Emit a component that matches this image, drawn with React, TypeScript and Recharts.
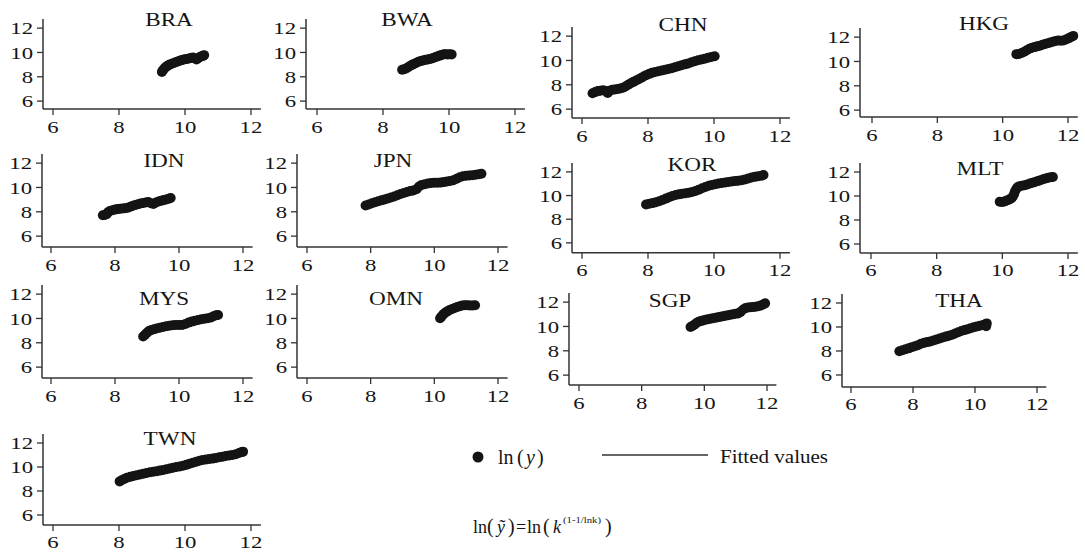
import { ScatterChart, Scatter, XAxis, YAxis } from "recharts";

type Pt = { x: number; y: number };
const pts = (pairs: number[][]): Pt[] => pairs.map(([x, y]) => ({ x, y }));

// ln(k) on x, ln(y) on y, one array per economy
const BRA = pts([
  [9.3, 8.4], [9.32, 8.5], [9.35, 8.6], [9.38, 8.7], [9.42, 8.8], [9.47, 8.9], [9.52, 8.98],
  [9.58, 9.05], [9.64, 9.12], [9.7, 9.18], [9.76, 9.24], [9.82, 9.3], [9.88, 9.35], [9.94, 9.4],
  [10.0, 9.44], [10.06, 9.47], [10.12, 9.5], [10.18, 9.55], [10.24, 9.58], [10.3, 9.5],
  [10.35, 9.42], [10.4, 9.52], [10.45, 9.62], [10.5, 9.68], [10.55, 9.72], [10.58, 9.78],
]);
const BWA = pts([
  [8.58, 8.58], [8.64, 8.62], [8.7, 8.68], [8.76, 8.78], [8.82, 8.88], [8.88, 8.98], [8.94, 9.06],
  [9.0, 9.14], [9.06, 9.22], [9.12, 9.28], [9.18, 9.32], [9.24, 9.36], [9.3, 9.4], [9.36, 9.42],
  [9.42, 9.46], [9.48, 9.5], [9.54, 9.56], [9.6, 9.62], [9.66, 9.68], [9.72, 9.74], [9.78, 9.8],
  [9.84, 9.85], [9.9, 9.86], [9.96, 9.84], [10.02, 9.86], [10.08, 9.84],
]);
const CHN = pts([
  [6.32, 7.3], [6.4, 7.4], [6.48, 7.48], [6.56, 7.52], [6.64, 7.56], [6.72, 7.5], [6.78, 7.32],
  [6.84, 7.52], [6.92, 7.6], [7.0, 7.62], [7.08, 7.66], [7.16, 7.7], [7.24, 7.76], [7.32, 7.86],
  [7.4, 8.0], [7.48, 8.12], [7.56, 8.24], [7.64, 8.36], [7.72, 8.46], [7.8, 8.58], [7.88, 8.7],
  [7.96, 8.8], [8.04, 8.9], [8.12, 8.98], [8.22, 9.06], [8.32, 9.12], [8.42, 9.18], [8.52, 9.24],
  [8.62, 9.3], [8.72, 9.36], [8.82, 9.44], [8.92, 9.52], [9.02, 9.6], [9.12, 9.68], [9.22, 9.76],
  [9.32, 9.86], [9.42, 9.94], [9.52, 10.02], [9.62, 10.08], [9.72, 10.14], [9.82, 10.22],
  [9.92, 10.28], [10.02, 10.34],
]);
const HKG = pts([
  [10.42, 10.6], [10.5, 10.62], [10.58, 10.7], [10.66, 10.8], [10.74, 10.92], [10.82, 11.04],
  [10.9, 11.12], [10.98, 11.18], [11.06, 11.24], [11.14, 11.3], [11.22, 11.38], [11.3, 11.44],
  [11.38, 11.5], [11.46, 11.56], [11.54, 11.62], [11.62, 11.68], [11.7, 11.72], [11.78, 11.7],
  [11.86, 11.72], [11.94, 11.8], [12.02, 11.9], [12.1, 12.02], [12.16, 12.1],
]);
const IDN = pts([
  [7.62, 7.72], [7.68, 7.74], [7.74, 7.8], [7.78, 7.96], [7.84, 8.06], [7.92, 8.12], [8.0, 8.18],
  [8.08, 8.22], [8.16, 8.26], [8.24, 8.28], [8.32, 8.3], [8.4, 8.34], [8.48, 8.42], [8.56, 8.5],
  [8.64, 8.56], [8.72, 8.62], [8.8, 8.68], [8.88, 8.72], [8.96, 8.76], [9.04, 8.8], [9.12, 8.7],
  [9.2, 8.64], [9.28, 8.76], [9.36, 8.84], [9.44, 8.9], [9.52, 8.96], [9.6, 9.02], [9.68, 9.08],
  [9.74, 9.14],
]);
const JPN = pts([
  [7.84, 8.52], [7.94, 8.6], [8.04, 8.7], [8.14, 8.78], [8.24, 8.86], [8.34, 8.94], [8.44, 9.02],
  [8.54, 9.1], [8.64, 9.18], [8.74, 9.26], [8.84, 9.36], [8.94, 9.46], [9.04, 9.54], [9.14, 9.62],
  [9.24, 9.7], [9.34, 9.76], [9.44, 9.86], [9.52, 10.08], [9.6, 10.2], [9.7, 10.26], [9.8, 10.32],
  [9.9, 10.36], [10.0, 10.38], [10.1, 10.38], [10.2, 10.4], [10.3, 10.44], [10.4, 10.5],
  [10.5, 10.54], [10.6, 10.6], [10.7, 10.72], [10.8, 10.84], [10.9, 10.92], [11.0, 10.96],
  [11.1, 10.98], [11.2, 11.0], [11.3, 11.04], [11.4, 11.08], [11.48, 11.12],
]);
const KOR = pts([
  [7.94, 9.24], [8.04, 9.3], [8.14, 9.36], [8.24, 9.44], [8.34, 9.52], [8.44, 9.62], [8.54, 9.74],
  [8.64, 9.86], [8.74, 9.96], [8.84, 10.04], [8.94, 10.1], [9.04, 10.16], [9.14, 10.2],
  [9.24, 10.24], [9.34, 10.3], [9.44, 10.38], [9.54, 10.5], [9.64, 10.62], [9.74, 10.72],
  [9.84, 10.82], [9.94, 10.9], [10.04, 10.96], [10.14, 11.02], [10.24, 11.06], [10.34, 11.1],
  [10.44, 11.14], [10.54, 11.18], [10.64, 11.22], [10.74, 11.26], [10.84, 11.3], [10.94, 11.36],
  [11.04, 11.44], [11.14, 11.52], [11.24, 11.58], [11.34, 11.64], [11.44, 11.68], [11.5, 11.74],
]);
const MLT = pts([
  [9.92, 9.52], [9.98, 9.5], [10.04, 9.52], [10.1, 9.58], [10.16, 9.64], [10.22, 9.72],
  [10.28, 9.82], [10.32, 9.96], [10.36, 10.16], [10.38, 10.36], [10.42, 10.56], [10.46, 10.72],
  [10.52, 10.82], [10.6, 10.86], [10.68, 10.9], [10.76, 10.96], [10.84, 11.04], [10.92, 11.1],
  [11.0, 11.16], [11.08, 11.24], [11.16, 11.32], [11.24, 11.4], [11.32, 11.46], [11.4, 11.52],
  [11.48, 11.56], [11.54, 11.58],
]);
const MYS = pts([
  [8.88, 8.52], [8.94, 8.66], [9.0, 8.82], [9.06, 8.96], [9.14, 9.06], [9.22, 9.12], [9.3, 9.18],
  [9.4, 9.24], [9.5, 9.3], [9.6, 9.36], [9.7, 9.4], [9.8, 9.44], [9.9, 9.46], [10.0, 9.46],
  [10.1, 9.46], [10.2, 9.54], [10.3, 9.66], [10.4, 9.74], [10.5, 9.82], [10.6, 9.88], [10.7, 9.94],
  [10.8, 9.98], [10.9, 10.02], [11.0, 10.08], [11.08, 10.18], [11.16, 10.26], [11.22, 10.28],
]);
const OMN = pts([
  [10.18, 10.02], [10.22, 10.14], [10.26, 10.26], [10.3, 10.38], [10.36, 10.5], [10.42, 10.6],
  [10.48, 10.7], [10.56, 10.78], [10.64, 10.86], [10.72, 10.94], [10.8, 11.0], [10.88, 11.06],
  [10.96, 11.08], [11.04, 11.08], [11.12, 11.06], [11.2, 11.06], [11.28, 11.08],
]);
const SGP = pts([
  [9.56, 9.96], [9.62, 10.04], [9.68, 10.14], [9.74, 10.26], [9.8, 10.36], [9.88, 10.44],
  [9.96, 10.5], [10.04, 10.56], [10.12, 10.6], [10.2, 10.64], [10.28, 10.68], [10.36, 10.72],
  [10.44, 10.76], [10.52, 10.8], [10.6, 10.84], [10.68, 10.88], [10.76, 10.92], [10.84, 10.96],
  [10.92, 11.0], [11.0, 11.04], [11.08, 11.06], [11.16, 11.2], [11.24, 11.4], [11.32, 11.52],
  [11.4, 11.56], [11.48, 11.58], [11.56, 11.6], [11.64, 11.62], [11.72, 11.66], [11.8, 11.72],
  [11.88, 11.8], [11.94, 11.9],
]);
const THA = pts([
  [7.56, 7.98], [7.66, 8.06], [7.76, 8.14], [7.86, 8.22], [7.96, 8.32], [8.06, 8.4], [8.16, 8.48],
  [8.26, 8.6], [8.36, 8.68], [8.46, 8.74], [8.56, 8.8], [8.66, 8.88], [8.76, 8.96], [8.86, 9.04],
  [8.96, 9.12], [9.06, 9.2], [9.16, 9.28], [9.26, 9.36], [9.36, 9.46], [9.46, 9.56], [9.56, 9.66],
  [9.66, 9.74], [9.76, 9.82], [9.86, 9.9], [9.96, 9.98], [10.06, 10.04], [10.16, 10.1],
  [10.26, 10.16], [10.34, 10.22], [10.38, 10.3], [10.36, 10.06],
]);
const TWN = pts([
  [8.02, 8.8], [8.08, 8.9], [8.16, 9.0], [8.24, 9.1], [8.34, 9.18], [8.44, 9.26], [8.54, 9.32],
  [8.64, 9.38], [8.74, 9.44], [8.84, 9.5], [8.94, 9.56], [9.04, 9.6], [9.14, 9.64], [9.24, 9.7],
  [9.34, 9.76], [9.44, 9.82], [9.54, 9.88], [9.64, 9.94], [9.74, 10.0], [9.84, 10.04],
  [9.94, 10.1], [10.04, 10.18], [10.14, 10.28], [10.24, 10.36], [10.34, 10.44], [10.44, 10.52],
  [10.54, 10.58], [10.64, 10.62], [10.74, 10.66], [10.84, 10.7], [10.94, 10.76], [11.04, 10.82],
  [11.14, 10.86], [11.24, 10.92], [11.34, 10.96], [11.44, 11.0], [11.54, 11.06], [11.64, 11.16],
  [11.72, 11.24], [11.76, 11.28],
]);

const seriesByCode: Record<string, Pt[]> = {
  BRA, BWA, CHN, HKG, IDN, JPN, KOR, MLT, MYS, OMN, SGP, THA, TWN,
};

const xTicks = [6, 8, 10, 12];
const yTicks = [6, 8, 10, 12];

// pixel geometry of each small panel: y-axis line (ax), tick 6/12 positions,
// x-axis line (ay), title centre/baseline
const panels = [
  { code: "BRA", ax: 43, x6: 53, x12: 251, y12: 28, y6: 101, ay: 109, tx: 169, ty: 26 },
  { code: "BWA", ax: 306, x6: 317, x12: 515, y12: 28, y6: 101, ay: 109, tx: 407, ty: 26 },
  { code: "CHN", ax: 572, x6: 582, x12: 780, y12: 36, y6: 109, ay: 118, tx: 683, ty: 31 },
  { code: "HKG", ax: 860, x6: 872, x12: 1068, y12: 37, y6: 110, ay: 117, tx: 984, ty: 30 },
  { code: "IDN", ax: 42, x6: 51, x12: 243, y12: 163, y6: 236, ay: 247, tx: 164, ty: 167 },
  { code: "JPN", ax: 297, x6: 307, x12: 498, y12: 163, y6: 236, ay: 247, tx: 393, ty: 167 },
  { code: "KOR", ax: 572, x6: 582, x12: 780, y12: 172, y6: 243, ay: 253, tx: 692, ty: 171 },
  { code: "MLT", ax: 860, x6: 871, x12: 1068, y12: 172, y6: 244, ay: 253, tx: 980, ty: 175 },
  { code: "MYS", ax: 42, x6: 51, x12: 243, y12: 294, y6: 367, ay: 378, tx: 164, ty: 305 },
  { code: "OMN", ax: 297, x6: 307, x12: 498, y12: 294, y6: 367, ay: 378, tx: 396, ty: 305 },
  { code: "SGP", ax: 569, x6: 579, x12: 767, y12: 302, y6: 375, ay: 385, tx: 670, ty: 307 },
  { code: "THA", ax: 842, x6: 851, x12: 1037, y12: 303, y6: 375, ay: 387, tx: 959, ty: 307 },
  { code: "TWN", ax: 43, x6: 53, x12: 251, y12: 443, y6: 515, ay: 525, tx: 170, ty: 445 },
];

const FONT = "'Liberation Serif', 'Times New Roman', serif";
const INK = "#141414";
const AXIS = "#333";
const YW = 44;
const RIGHT = 16;

const Dot = (props: any) => <circle cx={props.cx} cy={props.cy} r={5} fill={INK} />;

const XTick = ({ x, y, payload }: any) => (
  <text transform={`translate(${x},${y}) scale(1.3,1)`} textAnchor="middle" dy="0.71em"
    fontSize={17.5} fontFamily={FONT} fill={INK}>
    {payload.value}
  </text>
);

const YTick = ({ x, y, payload }: any) => (
  <text transform={`translate(${x},${y}) scale(1.3,1)`} textAnchor="end" dy="0.35em"
    fontSize={17.5} fontFamily={FONT} fill={INK}>
    {payload.value}
  </text>
);

function Panel({ p }: { p: (typeof panels)[number] }) {
  const pxu = (p.x12 - p.x6) / 6;
  const pyu = (p.y6 - p.y12) / 6;
  const xMin = 6 - (p.x6 - p.ax) / pxu;
  const xMax = 12.3;
  const yMax = 12.75;
  const yMin = 6 - (p.ay - p.y6) / pyu;
  const plotW = (xMax - xMin) * pxu;
  const plotTop = p.y12 - (yMax - 12) * pyu;
  const plotH = p.ay - plotTop;
  const xh = 30;
  return (
    <div style={{ position: "absolute", left: p.ax - YW, top: plotTop - 2 }}>
      <ScatterChart width={YW + plotW + RIGHT} height={2 + plotH + xh}
        margin={{ top: 2, right: RIGHT, bottom: 0, left: 0 }}>
        <XAxis type="number" dataKey="x" domain={[xMin, xMax]} ticks={xTicks} interval={0}
          height={xh} tickSize={6} tickMargin={5} tick={<XTick />}
          axisLine={{ stroke: AXIS, strokeWidth: 1.5 }} tickLine={{ stroke: AXIS, strokeWidth: 1.3 }} />
        <YAxis type="number" dataKey="y" domain={[yMin, yMax]} ticks={yTicks} interval={0}
          width={YW} tickSize={6} tickMargin={4} tick={<YTick />}
          axisLine={{ stroke: AXIS, strokeWidth: 1.5 }} tickLine={{ stroke: AXIS, strokeWidth: 1.3 }} />
        <Scatter data={seriesByCode[p.code]} shape={Dot} isAnimationActive={false} />
      </ScatterChart>
    </div>
  );
}

export default function App() {
  return (
    <div style={{ position: "absolute", left: 0, top: 0, width: 1085, height: 554, background: "#fff", overflow: "hidden" }}>
      {panels.map((p) => (
        <Panel key={p.code} p={p} />
      ))}
      <svg width={1085} height={554} style={{ position: "absolute", left: 0, top: 0, pointerEvents: "none" }}>
        {panels.map((p) => (
          <text key={p.code} transform={`translate(${p.tx},${p.ty}) scale(1.22,1)`} textAnchor="middle"
            fontSize={19} fontFamily={FONT} fill={INK}>
            {p.code}
          </text>
        ))}

        {/* legend */}
        <circle cx={478} cy={457} r={5.5} fill={INK} />
        <text y={464} fontSize={20} fontFamily={FONT} fill={INK}>
          <tspan x={498}>ln</tspan>
          <tspan x={517}>(</tspan>
          <tspan x={526} fontStyle="italic">y</tspan>
          <tspan x={537}>)</tspan>
        </text>
        <line x1={602} y1={455} x2={708} y2={455} stroke={AXIS} strokeWidth={1.3} />
        <text x={720} y={463} fontSize={18} fontFamily={FONT} fill={INK} textLength={108} lengthAdjust="spacingAndGlyphs">
          Fitted values
        </text>

        <text y={533} fontSize={18} fontFamily={FONT} fill={INK}>
          <tspan x={473}>ln</tspan>
          <tspan x={487} fontSize={20}>(</tspan>
          <tspan x={497} fontStyle="italic">ỹ</tspan>
          <tspan x={508} fontSize={20}>)</tspan>
          <tspan x={516}>=</tspan>
          <tspan x={527}>ln</tspan>
          <tspan x={543} fontSize={20}>(</tspan>
          <tspan x={553} fontStyle="italic">k</tspan>
        </text>
        <text x={563} y={523} fontSize={8.5} fontFamily={FONT} fill={INK} textLength={38} lengthAdjust="spacingAndGlyphs">
          (1-1/lnk)
        </text>
        <text x={605} y={533} fontSize={20} fontFamily={FONT} fill={INK}>)</text>
      </svg>
    </div>
  );
}
